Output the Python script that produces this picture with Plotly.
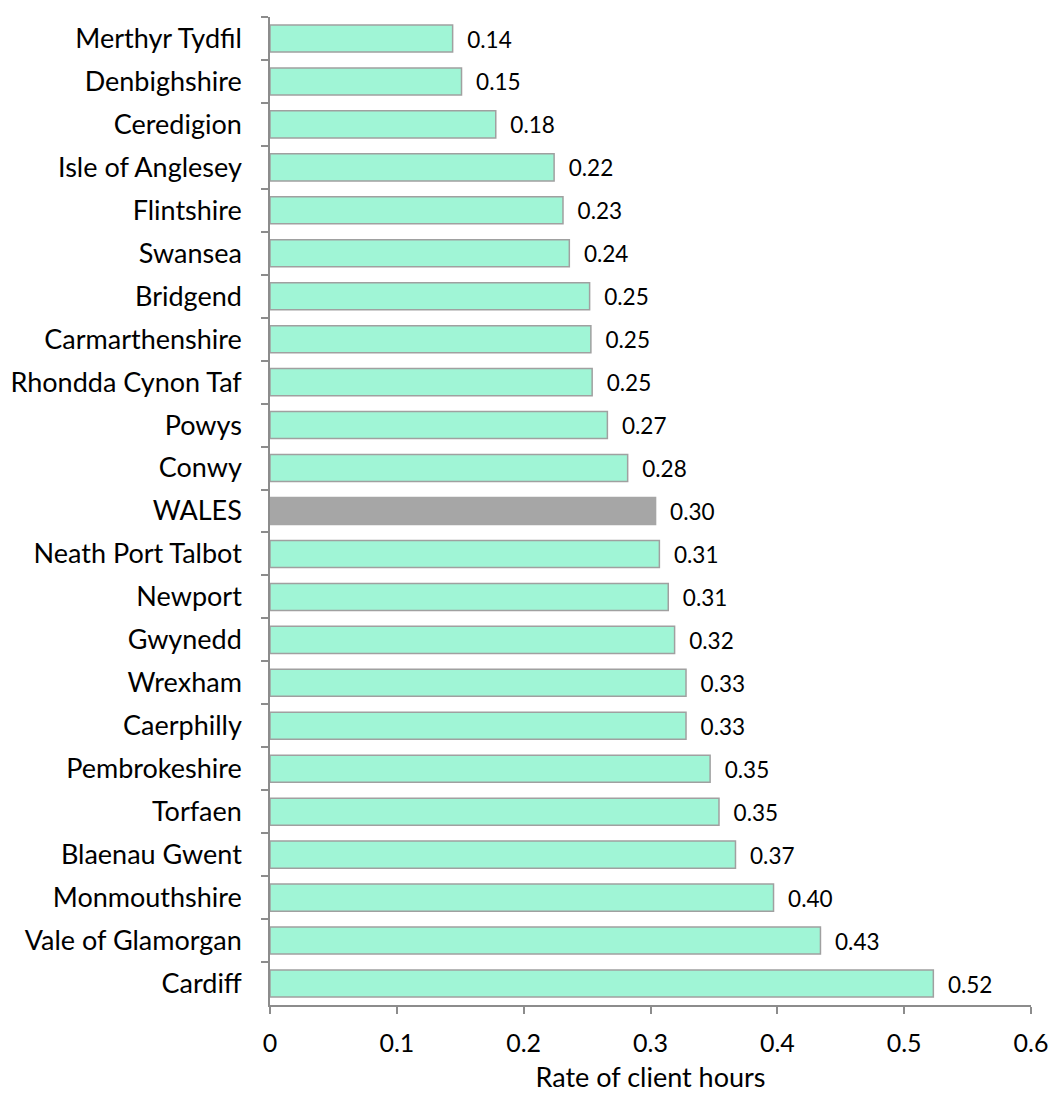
import plotly.graph_objects as go

areas = ["Merthyr Tydfil", "Denbighshire", "Ceredigion", "Isle of Anglesey", "Flintshire",
         "Swansea", "Bridgend", "Carmarthenshire", "Rhondda Cynon Taf", "Powys", "Conwy",
         "WALES", "Neath Port Talbot", "Newport", "Gwynedd", "Wrexham", "Caerphilly",
         "Pembrokeshire", "Torfaen", "Blaenau Gwent", "Monmouthshire", "Vale of Glamorgan",
         "Cardiff"]
rates = [0.144, 0.151, 0.178, 0.224, 0.231, 0.236, 0.252, 0.253, 0.254, 0.266, 0.282,
         0.304, 0.307, 0.314, 0.319, 0.328, 0.328, 0.347, 0.354, 0.367, 0.397, 0.434, 0.523]
x_ticks = [0, 0.1, 0.2, 0.3, 0.4, 0.5, 0.6]
x_tick_labels = ["0", "0.1", "0.2", "0.3", "0.4", "0.5", "0.6"]

fill = ["#A6A6A6" if a == "WALES" else "#A0F5D6" for a in areas]
line_col = ["#A6A6A6" if a == "WALES" else "#A0A0A0" for a in areas]

FONT = "Lato"

fig = go.Figure(go.Bar(
    x=rates, y=areas, orientation="h",
    marker=dict(color=fill, line=dict(color=line_col, width=1.5)),
    texttemplate="\u00a0\u00a0%{x:.2f}", textposition="outside",
    textfont=dict(family=FONT, size=25, color="#000000"),
    cliponaxis=False,
))

fig.update_layout(
    template="none",
    width=1051, height=1093,
    margin=dict(l=270, r=20, t=17, b=88),
    paper_bgcolor="white", plot_bgcolor="white",
    bargap=0.37,
    showlegend=False,
    font=dict(family=FONT, size=25, color="#000000"),
)
fig.update_xaxes(
    automargin=False,
    range=[0, 0.6], tickvals=x_ticks, ticktext=x_tick_labels,
    showgrid=False, zeroline=False,
    showline=True, linecolor="#8C8C8C", linewidth=1.5,
    ticks="outside", ticklen=7, tickcolor="#8C8C8C", tickwidth=1.5,
    tickfont=dict(family=FONT, size=25),
    ticklabelstandoff=8,
    title=dict(text="Rate of client hours", font=dict(family=FONT, size=27), standoff=21),
)
fig.update_yaxes(
    automargin=False,
    categoryorder="array", categoryarray=areas, autorange="reversed",
    showgrid=False, zeroline=False,
    showline=True, linecolor="#8C8C8C", linewidth=1.5,
    ticks="outside", ticklen=7, tickcolor="#8C8C8C", tickwidth=1.5,
    tickson="boundaries",
    tickfont=dict(family=FONT, size=27),
    ticklabelstandoff=21,
)

fig.write_html("out.html", config={"displayModeBar": False},
               post_script="document.body.style.margin='0';document.body.style.overflow='hidden';")
